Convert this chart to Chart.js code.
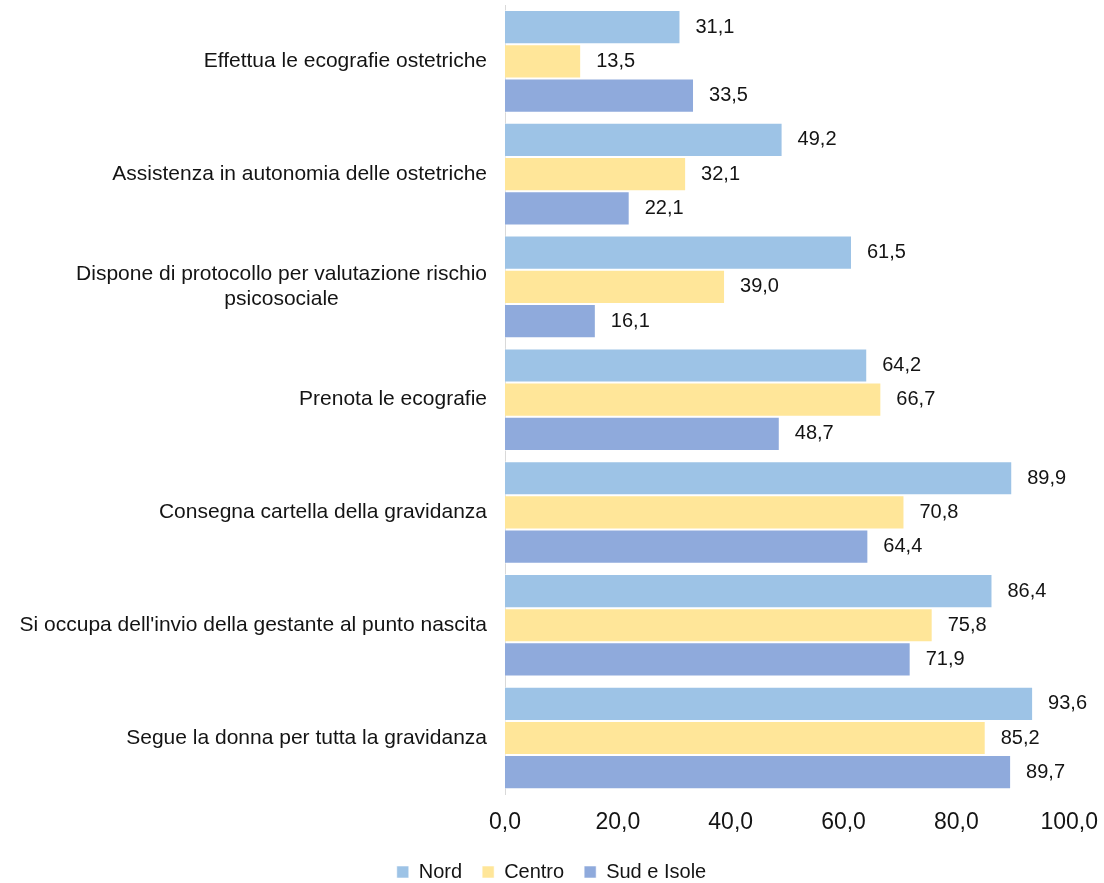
<!DOCTYPE html>
<html>
<head>
<meta charset="utf-8">
<title>Servizi offerti dal consultorio</title>
<script src="https://cdn.jsdelivr.net/npm/chart.js@4.4.1/dist/chart.umd.min.js"></script>
<style>
    body { margin: 0; background: #fff; }
    #chart { display: block; }
</style>
</head>
<body>
<canvas id="chart" width="1104" height="883"></canvas>
<script>
const categories = [
    'Effettua le ecografie ostetriche',
    'Assistenza in autonomia delle ostetriche',
    ['Dispone di protocollo per valutazione rischio', 'psicosociale'],
    'Prenota le ecografie',
    'Consegna cartella della gravidanza',
    "Si occupa dell'invio della gestante al punto nascita",
    'Segue la donna per tutta la gravidanza'
];
const seriesNames = ['Nord', 'Centro', 'Sud e Isole'];
const nord = [31.1, 49.2, 61.5, 64.2, 89.9, 86.4, 93.6];
const centro = [13.5, 32.1, 39.0, 66.7, 70.8, 75.8, 85.2];
const sudIsole = [33.5, 22.1, 16.1, 48.7, 64.4, 71.9, 89.7];
const xTicks = [0, 20, 40, 60, 80, 100];

const colors = ['#9DC3E6', '#FFE699', '#8FAADC'];
const FONT = "'Liberation Sans', Arial, sans-serif";
const TEXT = '#141414';

function fmt(v) {
    return Number(v).toFixed(1).replace('.', ',');
}

// category labels drawn by hand so the wrapped line stays centred under the first
const categoryLabels = {
    id: 'categoryLabels',
    afterDraw(chart) {
        const ctx = chart.ctx;
        const y = chart.scales.y;
        const right = chart.chartArea.left - 18;
        const lineHeight = 25;
        ctx.save();
        ctx.font = '21px ' + FONT;
        ctx.fillStyle = TEXT;
        ctx.textBaseline = 'middle';
        ctx.textAlign = 'center';
        categories.forEach(function(label, i) {
            const lines = Array.isArray(label) ? label : [label];
            const widest = Math.max.apply(null, lines.map(l => ctx.measureText(l).width));
            const cx = right - widest / 2;
            const cy = y.getPixelForTick(i);
            const top = cy - (lines.length - 1) * lineHeight / 2;
            lines.forEach(function(line, j) {
                ctx.fillText(line, cx, top + j * lineHeight);
            });
        });
        ctx.restore();
    }
};

const valueLabels = {
    id: 'valueLabels',
    afterDatasetsDraw(chart) {
        const ctx = chart.ctx;
        ctx.save();
        ctx.font = '20px ' + FONT;
        ctx.fillStyle = TEXT;
        ctx.textBaseline = 'middle';
        ctx.textAlign = 'left';
        chart.data.datasets.forEach(function(ds, i) {
            chart.getDatasetMeta(i).data.forEach(function(bar, j) {
                ctx.fillText(fmt(ds.data[j]), bar.x + 15, bar.y);
            });
        });
        ctx.restore();
    }
};

// the legend sits a bit right of the centre in the original
const legendShift = {
    id: 'legendShift',
    afterLayout(chart) {
        chart.legend.left += 13;
        chart.legend.right += 13;
    }
};

const ctx = document.getElementById('chart').getContext('2d');
const chart = new Chart(ctx, {
    type: 'bar',
    data: {
        labels: categories,
        datasets: [nord, centro, sudIsole].map(function(values, i) {
            return {
                label: seriesNames[i],
                data: values,
                backgroundColor: colors[i],
                borderColor: 'rgba(255,255,255,0.55)',
                borderWidth: 1,
                categoryPercentage: 0.91,
                barPercentage: 1.0
            };
        })
    },
    options: {
        indexAxis: 'y',
        responsive: false,
        animation: false,
        layout: {
            padding: { top: 5, right: 27, bottom: -9, left: 0 }
        },
        scales: {
            x: {
                min: 0,
                max: 100,
                afterBuildTicks: function(scale) {
                    scale.ticks = xTicks.map(v => ({ value: v }));
                },
                grid: { display: false },
                border: { display: false },
                ticks: {
                    padding: 6,
                    color: TEXT,
                    font: { family: FONT, size: 23 },
                    callback: v => fmt(v)
                }
            },
            y: {
                grid: { display: false },
                border: { display: true, color: '#d9d9d9', width: 1 },
                ticks: { display: false },
                afterFit: function(scale) {
                    scale.width = 505;
                }
            }
        },
        plugins: {
            legend: {
                position: 'bottom',
                labels: {
                    color: TEXT,
                    font: { family: FONT, size: 20 },
                    boxWidth: 12,
                    boxHeight: 12,
                    padding: 20
                }
            },
            tooltip: { enabled: false }
        }
    },
    plugins: [categoryLabels, valueLabels, legendShift]
});
</script>
</body>
</html>
